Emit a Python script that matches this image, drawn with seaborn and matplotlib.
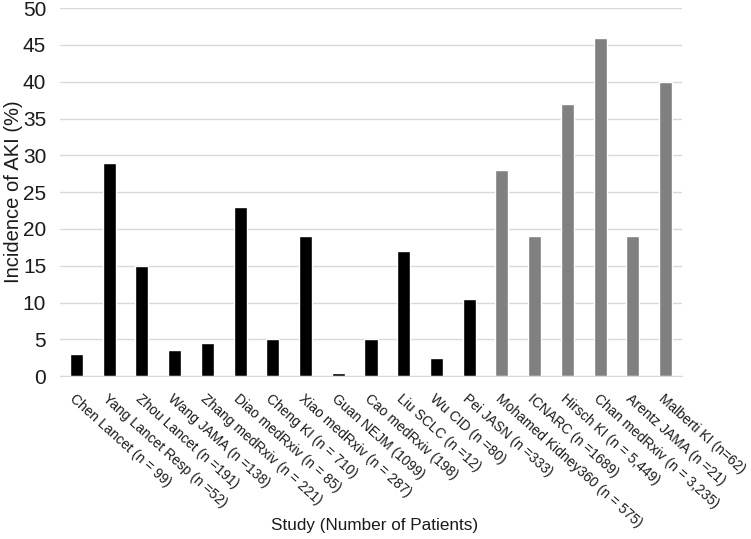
import matplotlib
matplotlib.use("Agg")
import matplotlib.pyplot as plt
import seaborn as sns
import pandas as pd

studies = [
    "Chen Lancet (n = 99)",
    "Yang Lancet Resp (n =52)",
    "Zhou Lancet (n =191)",
    "Wang JAMA (n =138)",
    "Zhang medRxiv (n = 221)",
    "Diao medRxiv (n = 85)",
    "Cheng KI (n = 710)",
    "Xiao medRxiv (n = 287)",
    "Guan NEJM (1099)",
    "Cao medRxiv (198)",
    "Liu SCLC (n =12)",
    "Wu CID (n =80)",
    "Pei JASN (n =333)",
    "Mohamed Kidney360 (n = 575)",
    "ICNARC (n =1689)",
    "Hirsch KI (n = 5,449)",
    "Chan medRxiv (n = 3,235)",
    "Arentz JAMA (n =21)",
    "Malberti KI (n=62)",
]
aki = [3, 29, 15, 3.6, 4.5, 23, 5, 19, 0.5, 5, 17, 2.5, 10.5, 28, 19, 37, 46, 19, 40]
group = ["early"] * 13 + ["later"] * 6

df = pd.DataFrame({"study": studies, "aki": aki, "group": group})

sns.set_style("white")
plt.rcParams['font.family'] = ['Liberation Sans', 'DejaVu Sans']

fig = plt.figure(figsize=(7.51, 5.39), dpi=100)
ax = fig.add_axes([0.08, 0.302, 0.828, 0.683])

sns.barplot(data=df, x="study", y="aki", hue="group",
            palette={"early": "#000000", "later": "#808080"},
            dodge=False, width=0.4, legend=False, ax=ax, saturation=1)

ax.set_ylim(0, 50)
ax.set_yticks(range(0, 51, 5))
ax.tick_params(axis='y', labelsize=15, length=0, pad=10, colors='#1a1a1a')
ax.tick_params(axis='x', length=0, pad=11, colors='#1a1a1a')
ax.yaxis.grid(True, color='#d9d9d9', linewidth=1)
ax.set_axisbelow(True)
for s in ['top', 'right', 'left']:
    ax.spines[s].set_visible(False)
ax.spines['bottom'].set_color('#d9d9d9')
ax.set_xlim(-0.5, len(studies) - 0.5)

ax.set_xticks(range(len(studies)))
ax.set_xticklabels(studies, rotation=-42, ha='left', va='top',
                   rotation_mode='anchor', fontsize=10)
ax.set_xlabel("Study (Number of Patients)", fontsize=12.3, color='#1a1a1a')
ax.xaxis.set_label_coords(0.505, -0.385)
ax.set_ylabel("Incidence of AKI (%)", fontsize=14.5, labelpad=0, color='#1a1a1a')

fig.savefig("out.png", dpi=100)
